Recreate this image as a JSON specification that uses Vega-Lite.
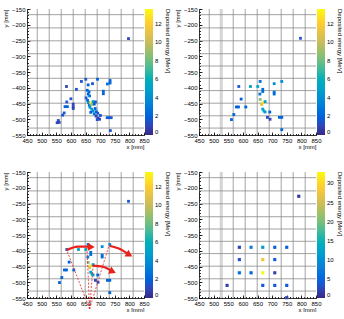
{
  "$schema": "https://vega.github.io/schema/vega-lite/v6.json",
  "padding": {"left": 2, "top": 6, "right": 0, "bottom": 0},
  "background": "white",
  "config": {
    "view": {"stroke": null},
    "font": "Liberation Sans",
    "axis": {"labelFontSize": 6, "titleFontSize": 6, "titleFontWeight": "normal", "domainColor": "black", "tickColor": "black", "labelColor": "black", "titleColor": "black", "grid": false, "tickSize": -3, "labelPadding": 5, "domainWidth": 0.8, "tickWidth": 0.8, "labelOverlap": false, "labelFlush": false},
    "legend": {"labelFontSize": 6, "titleFontSize": 6, "titleFontWeight": "normal", "gradientThickness": 8, "gradientLength": 126, "gradientStrokeWidth": 0, "labelColor": "black", "titleColor": "black", "padding": 0, "offset": 1, "titleOrient": "right", "titleAngle": 270, "titleAnchor": "end", "labelOffset": 2, "titlePadding": 3}
  },
  "datasets": {
    "gx": [{"x": 485}, {"x": 526}, {"x": 567}, {"x": 608}, {"x": 649}, {"x": 690}, {"x": 731}, {"x": 772}, {"x": 813}],
    "gy": [{"y": -168}, {"y": -210}, {"y": -251}, {"y": -292}, {"y": -331}, {"y": -370}, {"y": -409}, {"y": -449}, {"y": -489}, {"y": -528}],
    "band": [{"x": 526}],
    "p1": [
      {"x": 797, "y": -244, "e": 1}, {"x": 636, "y": -380, "e": 1.5}, {"x": 651, "y": -373, "e": 1.5}, {"x": 691, "y": -373, "e": 2},
      {"x": 734, "y": -377, "e": 2}, {"x": 734, "y": -385, "e": 2}, {"x": 725, "y": -388, "e": 2.5}, {"x": 585, "y": -396, "e": 1},
      {"x": 619, "y": -405, "e": 1.5}, {"x": 659, "y": -391, "e": 2}, {"x": 674, "y": -387, "e": 1.5}, {"x": 656, "y": -408, "e": 2},
      {"x": 662, "y": -413, "e": 2.5}, {"x": 659, "y": -420, "e": 2}, {"x": 664, "y": -426, "e": 3}, {"x": 711, "y": -411, "e": 2},
      {"x": 711, "y": -419, "e": 2}, {"x": 600, "y": -435, "e": 1.5}, {"x": 586, "y": -445, "e": 1.5}, {"x": 580, "y": -460, "e": 2},
      {"x": 588, "y": -460, "e": 2}, {"x": 608, "y": -452, "e": 1}, {"x": 608, "y": -460, "e": 1}, {"x": 608, "y": -466, "e": 1},
      {"x": 572, "y": -487, "e": 1.5}, {"x": 577, "y": -480, "e": 1.5}, {"x": 557, "y": -504, "e": 1}, {"x": 560, "y": -510, "e": 1},
      {"x": 553, "y": -511, "e": 1}, {"x": 652, "y": -432, "e": 1.5}, {"x": 657, "y": -440, "e": 2}, {"x": 660, "y": -447, "e": 4},
      {"x": 663, "y": -455, "e": 3}, {"x": 668, "y": -448, "e": 13}, {"x": 672, "y": -453, "e": 9}, {"x": 665, "y": -462, "e": 4},
      {"x": 676, "y": -444, "e": 5}, {"x": 680, "y": -452, "e": 2}, {"x": 684, "y": -445, "e": 1.5}, {"x": 671, "y": -468, "e": 5},
      {"x": 676, "y": -474, "e": 4}, {"x": 668, "y": -478, "e": 2}, {"x": 683, "y": -466, "e": 2}, {"x": 687, "y": -476, "e": 2},
      {"x": 680, "y": -483, "e": 3}, {"x": 692, "y": -481, "e": 1.5}, {"x": 686, "y": -490, "e": 1}, {"x": 693, "y": -496, "e": 1},
      {"x": 698, "y": -500, "e": 0.8}, {"x": 690, "y": -501, "e": 1.5}, {"x": 701, "y": -488, "e": 1.5}, {"x": 724, "y": -495, "e": 2},
      {"x": 731, "y": -495, "e": 1.5}, {"x": 738, "y": -495, "e": 1.5}, {"x": 735, "y": -536, "e": 1.5}
    ],
    "p2": [
      {"x": 797, "y": -243, "e": 1.5}, {"x": 659, "y": -380, "e": 2.5}, {"x": 707, "y": -387, "e": 4}, {"x": 733, "y": -380, "e": 4},
      {"x": 586, "y": -396, "e": 1.5}, {"x": 626, "y": -396, "e": 5}, {"x": 651, "y": -396, "e": 5.5}, {"x": 668, "y": -405, "e": 2.5},
      {"x": 668, "y": -412, "e": 2.5}, {"x": 658, "y": -420, "e": 3}, {"x": 707, "y": -414, "e": 2.5}, {"x": 707, "y": -420, "e": 2.5},
      {"x": 594, "y": -436, "e": 2}, {"x": 659, "y": -437, "e": 8.5}, {"x": 667, "y": -448, "e": 13}, {"x": 664, "y": -453, "e": 11},
      {"x": 676, "y": -444, "e": 5}, {"x": 578, "y": -461, "e": 2}, {"x": 585, "y": -461, "e": 2}, {"x": 610, "y": -461, "e": 2},
      {"x": 668, "y": -468, "e": 5}, {"x": 672, "y": -474, "e": 5.5}, {"x": 676, "y": -477, "e": 5}, {"x": 692, "y": -477, "e": 2},
      {"x": 569, "y": -485, "e": 2}, {"x": 684, "y": -494, "e": 1}, {"x": 693, "y": -500, "e": 1}, {"x": 725, "y": -494, "e": 2},
      {"x": 733, "y": -494, "e": 2}, {"x": 561, "y": -501, "e": 2}, {"x": 733, "y": -533, "e": 2}
    ],
    "p4": [
      {"x": 588, "y": -389, "e": 2}, {"x": 628, "y": -389, "e": 8}, {"x": 668, "y": -389, "e": 11}, {"x": 709, "y": -389, "e": 5},
      {"x": 750, "y": -389, "e": 5}, {"x": 588, "y": -428, "e": 3}, {"x": 668, "y": -428, "e": 28}, {"x": 709, "y": -428, "e": 4},
      {"x": 588, "y": -470, "e": 6}, {"x": 628, "y": -470, "e": 5}, {"x": 668, "y": -470, "e": 33}, {"x": 709, "y": -470, "e": 2},
      {"x": 546, "y": -510, "e": 2}, {"x": 668, "y": -510, "e": 4}, {"x": 709, "y": -510, "e": 4}, {"x": 750, "y": -510, "e": 4},
      {"x": 750, "y": -549, "e": 2}, {"x": 791, "y": -227, "e": 1.5}
    ],
    "dashes": [
      {"id": "a", "o": 0, "x": 664, "y": -585}, {"id": "a", "o": 1, "x": 586, "y": -398},
      {"id": "b", "o": 0, "x": 664, "y": -585}, {"id": "b", "o": 1, "x": 730, "y": -384},
      {"id": "c", "o": 0, "x": 664, "y": -585}, {"id": "c", "o": 1, "x": 655, "y": -390},
      {"id": "d", "o": 0, "x": 664, "y": -585}, {"id": "d", "o": 1, "x": 676, "y": -447}
    ],
    "arrows": [
      {"id": "1", "o": 0, "x": 586, "y": -398}, {"id": "1", "o": 1, "x": 624, "y": -387}, {"id": "1", "o": 2, "x": 664, "y": -387},
      {"id": "2", "o": 0, "x": 732, "y": -384}, {"id": "2", "o": 1, "x": 764, "y": -393}, {"id": "2", "o": 2, "x": 794, "y": -409},
      {"id": "3", "o": 0, "x": 675, "y": -447}, {"id": "3", "o": 1, "x": 707, "y": -450}, {"id": "3", "o": 2, "x": 737, "y": -463}
    ],
    "heads": [
      {"id": "1", "x": 670, "y": -388}, {"id": "2", "x": 800, "y": -413}, {"id": "3", "x": 743, "y": -466}
    ],
    "mx": [{"x": 450}, {"x": 850}],
    "my": [{"y": -550}, {"y": -150}]
  },
  "columns": 2,
  "spacing": {"row": 37, "column": 55},
  "bounds": "flush",
  "resolve": {"scale": {"color": "independent", "x": "independent", "y": "independent"}, "legend": {"color": "independent"}, "axis": {"x": "independent", "y": "independent"}},
  "concat": [
    {
      "width": 117, "height": 126,
      "resolve": {"axis": {"x": "independent", "y": "independent"}},
      "layer": [
        {"data": {"name": "gx"}, "mark": {"type": "rule", "color": "#8c8c8c", "strokeWidth": 0.8}, "encoding": {"x": {"field": "x", "type": "quantitative", "scale": {"domain": [450, 850], "nice": false, "zero": false}, "axis": null}}},
        {"data": {"name": "gy"}, "mark": {"type": "rule", "color": "#8c8c8c", "strokeWidth": 0.8}, "encoding": {"y": {"field": "y", "type": "quantitative", "scale": {"domain": [-550, -150], "nice": false, "zero": false}, "axis": null}}},
        {"data": {"name": "mx"}, "mark": {"type": "point", "opacity": 0}, "encoding": {"x": {"field": "x", "type": "quantitative", "axis": {"orient": "bottom", "values": [450,460,470,480,490,500,510,520,530,540,550,560,570,580,590,600,610,620,630,640,650,660,670,680,690,700,710,720,730,740,750,760,770,780,790,800,810,820,830,840,850], "labels": false, "domain": false, "tickSize": -1.5, "title": null}}}},
        {"data": {"name": "my"}, "mark": {"type": "point", "opacity": 0}, "encoding": {"y": {"field": "y", "type": "quantitative", "axis": {"orient": "left", "values": [-550,-540,-530,-520,-510,-500,-490,-480,-470,-460,-450,-440,-430,-420,-410,-400,-390,-380,-370,-360,-350,-340,-330,-320,-310,-300,-290,-280,-270,-260,-250,-240,-230,-220,-210,-200,-190,-180,-170,-160,-150], "labels": false, "domain": false, "tickSize": -1.5, "title": null}}}},
        {"data": {"name": "p1"}, "mark": {"type": "point", "shape": "square", "filled": true, "size": 8, "opacity": 1},
         "encoding": {
           "x": {"field": "x", "type": "quantitative", "axis": {"orient": "bottom", "values": [450, 500, 550, 600, 650, 700, 750, 800, 850], "title": "x [mm]", "titleAnchor": "end", "titlePadding": 0}},
           "y": {"field": "y", "type": "quantitative", "axis": {"orient": "left", "values": [-550, -500, -450, -400, -350, -300, -250, -200, -150], "title": "y [mm]", "titleAnchor": "end", "titlePadding": 3}},
           "color": {"field": "e", "type": "quantitative", "scale": {"domain": [0, 13.6], "range": ["#352a87", "#0f5cdd", "#1481d6", "#06a4ca", "#2eb7a4", "#87bf77", "#d1bb59", "#fec832", "#f9fb0e"]}, "legend": {"title": "Deposited energy [MeV]", "values": [0, 2, 4, 6, 8, 10, 12]}}
         }}
      ]
    },
    {
      "width": 117, "height": 126,
      "resolve": {"axis": {"x": "independent", "y": "independent"}},
      "layer": [
        {"data": {"name": "gx"}, "mark": {"type": "rule", "color": "#8c8c8c", "strokeWidth": 0.8}, "encoding": {"x": {"field": "x", "type": "quantitative", "scale": {"domain": [450, 850], "nice": false, "zero": false}, "axis": null}}},
        {"data": {"name": "band"}, "mark": {"type": "rule", "color": "#d4d4d4", "strokeWidth": 3}, "encoding": {"x": {"field": "x", "type": "quantitative", "axis": null}}},
        {"data": {"name": "gy"}, "mark": {"type": "rule", "color": "#8c8c8c", "strokeWidth": 0.8}, "encoding": {"y": {"field": "y", "type": "quantitative", "scale": {"domain": [-550, -150], "nice": false, "zero": false}, "axis": null}}},
        {"data": {"name": "mx"}, "mark": {"type": "point", "opacity": 0}, "encoding": {"x": {"field": "x", "type": "quantitative", "axis": {"orient": "bottom", "values": [450,460,470,480,490,500,510,520,530,540,550,560,570,580,590,600,610,620,630,640,650,660,670,680,690,700,710,720,730,740,750,760,770,780,790,800,810,820,830,840,850], "labels": false, "domain": false, "tickSize": -1.5, "title": null}}}},
        {"data": {"name": "my"}, "mark": {"type": "point", "opacity": 0}, "encoding": {"y": {"field": "y", "type": "quantitative", "axis": {"orient": "left", "values": [-550,-540,-530,-520,-510,-500,-490,-480,-470,-460,-450,-440,-430,-420,-410,-400,-390,-380,-370,-360,-350,-340,-330,-320,-310,-300,-290,-280,-270,-260,-250,-240,-230,-220,-210,-200,-190,-180,-170,-160,-150], "labels": false, "domain": false, "tickSize": -1.5, "title": null}}}},
        {"data": {"name": "p2"}, "mark": {"type": "point", "shape": "square", "filled": true, "size": 8, "opacity": 1},
         "encoding": {
           "x": {"field": "x", "type": "quantitative", "axis": {"orient": "bottom", "values": [450, 500, 550, 600, 650, 700, 750, 800, 850], "title": "x [mm]", "titleAnchor": "end", "titlePadding": 0}},
           "y": {"field": "y", "type": "quantitative", "axis": {"orient": "left", "values": [-550, -500, -450, -400, -350, -300, -250, -200, -150], "title": "y [mm]", "titleAnchor": "end", "titlePadding": 3}},
           "color": {"field": "e", "type": "quantitative", "scale": {"domain": [0, 13.6], "range": ["#352a87", "#0f5cdd", "#1481d6", "#06a4ca", "#2eb7a4", "#87bf77", "#d1bb59", "#fec832", "#f9fb0e"]}, "legend": {"title": "Deposited energy [MeV]", "values": [0, 2, 4, 6, 8, 10, 12]}}
         }}
      ]
    },
    {
      "width": 117, "height": 126,
      "resolve": {"axis": {"x": "independent", "y": "independent"}},
      "layer": [
        {"data": {"name": "gx"}, "mark": {"type": "rule", "color": "#8c8c8c", "strokeWidth": 0.8}, "encoding": {"x": {"field": "x", "type": "quantitative", "scale": {"domain": [450, 850], "nice": false, "zero": false}, "axis": null}}},
        {"data": {"name": "gy"}, "mark": {"type": "rule", "color": "#8c8c8c", "strokeWidth": 0.8}, "encoding": {"y": {"field": "y", "type": "quantitative", "scale": {"domain": [-550, -150], "nice": false, "zero": false}, "axis": null}}},
        {"data": {"name": "mx"}, "mark": {"type": "point", "opacity": 0}, "encoding": {"x": {"field": "x", "type": "quantitative", "axis": {"orient": "bottom", "values": [450,460,470,480,490,500,510,520,530,540,550,560,570,580,590,600,610,620,630,640,650,660,670,680,690,700,710,720,730,740,750,760,770,780,790,800,810,820,830,840,850], "labels": false, "domain": false, "tickSize": -1.5, "title": null}}}},
        {"data": {"name": "my"}, "mark": {"type": "point", "opacity": 0}, "encoding": {"y": {"field": "y", "type": "quantitative", "axis": {"orient": "left", "values": [-550,-540,-530,-520,-510,-500,-490,-480,-470,-460,-450,-440,-430,-420,-410,-400,-390,-380,-370,-360,-350,-340,-330,-320,-310,-300,-290,-280,-270,-260,-250,-240,-230,-220,-210,-200,-190,-180,-170,-160,-150], "labels": false, "domain": false, "tickSize": -1.5, "title": null}}}},
        {"data": {"name": "p2"}, "mark": {"type": "point", "shape": "square", "filled": true, "size": 8, "opacity": 1},
         "encoding": {
           "x": {"field": "x", "type": "quantitative", "axis": {"orient": "bottom", "values": [450, 500, 550, 600, 650, 700, 750, 800, 850], "title": "x [mm]", "titleAnchor": "end", "titlePadding": 0}},
           "y": {"field": "y", "type": "quantitative", "axis": {"orient": "left", "values": [-550, -500, -450, -400, -350, -300, -250, -200, -150], "title": "y [mm]", "titleAnchor": "end", "titlePadding": 3}},
           "color": {"field": "e", "type": "quantitative", "scale": {"domain": [0, 13.6], "range": ["#352a87", "#0f5cdd", "#1481d6", "#06a4ca", "#2eb7a4", "#87bf77", "#d1bb59", "#fec832", "#f9fb0e"]}, "legend": {"title": "Deposited energy [MeV]", "values": [0, 2, 4, 6, 8, 10, 12]}}
         }},
        {"data": {"name": "dashes"}, "mark": {"type": "line", "color": "#e8221b", "strokeWidth": 0.8, "strokeDash": [2, 1.5], "clip": false},
         "encoding": {"x": {"field": "x", "type": "quantitative", "axis": null}, "y": {"field": "y", "type": "quantitative", "axis": null}, "detail": {"field": "id"}, "order": {"field": "o"}}},
        {"data": {"name": "arrows"}, "mark": {"type": "line", "color": "#e8221b", "strokeWidth": 2.2, "interpolate": "monotone"},
         "encoding": {"x": {"field": "x", "type": "quantitative", "axis": null}, "y": {"field": "y", "type": "quantitative", "axis": null}, "detail": {"field": "id"}, "order": {"field": "o"}}},
        {"data": {"name": "heads"}, "transform": [{"filter": "datum.id == '1'"}], "mark": {"type": "point", "shape": "triangle-right", "filled": true, "color": "#e8221b", "opacity": 1, "size": 60},
         "encoding": {"x": {"field": "x", "type": "quantitative", "axis": null}, "y": {"field": "y", "type": "quantitative", "axis": null}}},
        {"data": {"name": "heads"}, "transform": [{"filter": "datum.id == '2'"}], "mark": {"type": "point", "shape": "triangle-right", "filled": true, "color": "#e8221b", "opacity": 1, "size": 60, "angle": 30},
         "encoding": {"x": {"field": "x", "type": "quantitative", "axis": null}, "y": {"field": "y", "type": "quantitative", "axis": null}}},
        {"data": {"name": "heads"}, "transform": [{"filter": "datum.id == '3'"}], "mark": {"type": "point", "shape": "triangle-right", "filled": true, "color": "#e8221b", "opacity": 1, "size": 60, "angle": 25},
         "encoding": {"x": {"field": "x", "type": "quantitative", "axis": null}, "y": {"field": "y", "type": "quantitative", "axis": null}}}
      ]
    },
    {
      "width": 117, "height": 126,
      "resolve": {"axis": {"x": "independent", "y": "independent"}},
      "layer": [
        {"data": {"name": "gx"}, "mark": {"type": "rule", "color": "#8c8c8c", "strokeWidth": 0.8}, "encoding": {"x": {"field": "x", "type": "quantitative", "scale": {"domain": [450, 850], "nice": false, "zero": false}, "axis": null}}},
        {"data": {"name": "band"}, "mark": {"type": "rule", "color": "#d4d4d4", "strokeWidth": 3}, "encoding": {"x": {"field": "x", "type": "quantitative", "axis": null}}},
        {"data": {"name": "gy"}, "mark": {"type": "rule", "color": "#8c8c8c", "strokeWidth": 0.8}, "encoding": {"y": {"field": "y", "type": "quantitative", "scale": {"domain": [-550, -150], "nice": false, "zero": false}, "axis": null}}},
        {"data": {"name": "mx"}, "mark": {"type": "point", "opacity": 0}, "encoding": {"x": {"field": "x", "type": "quantitative", "axis": {"orient": "bottom", "values": [450,460,470,480,490,500,510,520,530,540,550,560,570,580,590,600,610,620,630,640,650,660,670,680,690,700,710,720,730,740,750,760,770,780,790,800,810,820,830,840,850], "labels": false, "domain": false, "tickSize": -1.5, "title": null}}}},
        {"data": {"name": "my"}, "mark": {"type": "point", "opacity": 0}, "encoding": {"y": {"field": "y", "type": "quantitative", "axis": {"orient": "left", "values": [-550,-540,-530,-520,-510,-500,-490,-480,-470,-460,-450,-440,-430,-420,-410,-400,-390,-380,-370,-360,-350,-340,-330,-320,-310,-300,-290,-280,-270,-260,-250,-240,-230,-220,-210,-200,-190,-180,-170,-160,-150], "labels": false, "domain": false, "tickSize": -1.5, "title": null}}}},
        {"data": {"name": "p4"}, "mark": {"type": "point", "shape": "square", "filled": true, "size": 10, "opacity": 1},
         "encoding": {
           "x": {"field": "x", "type": "quantitative", "axis": {"orient": "bottom", "values": [450, 500, 550, 600, 650, 700, 750, 800, 850], "title": "x [mm]", "titleAnchor": "end", "titlePadding": 0}},
           "y": {"field": "y", "type": "quantitative", "axis": {"orient": "left", "values": [-550, -500, -450, -400, -350, -300, -250, -200, -150], "title": "y [mm]", "titleAnchor": "end", "titlePadding": 3}},
           "color": {"field": "e", "type": "quantitative", "scale": {"domain": [0, 33], "range": ["#352a87", "#0f5cdd", "#1481d6", "#06a4ca", "#2eb7a4", "#87bf77", "#d1bb59", "#fec832", "#f9fb0e"]}, "legend": {"title": "Deposited energy [MeV]", "values": [0, 5, 10, 15, 20, 25, 30]}}
         }}
      ]
    }
  ]
}
